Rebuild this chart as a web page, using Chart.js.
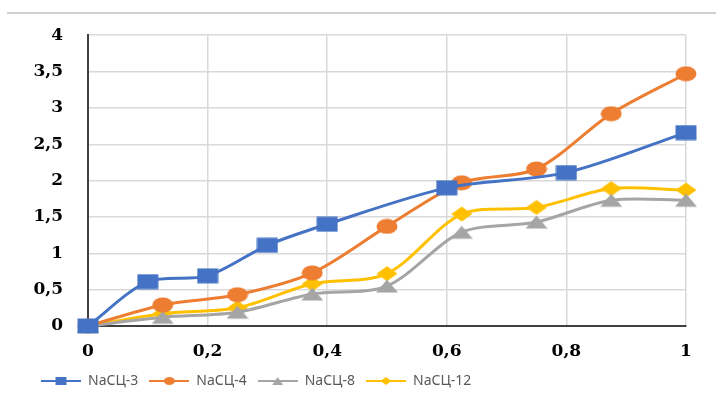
<!DOCTYPE html>
<html>
<head>
<meta charset="utf-8">
<script src="https://cdn.jsdelivr.net/npm/chart.js@4.4.1/dist/chart.umd.min.js"></script>
<style>
  html, body { margin: 0; padding: 0; background: #fff; }
  #wrap { position: relative; width: 716px; height: 405px; }
  #topline { position: absolute; left: 7px; right: 0; top: 12px; height: 0; border-top: 2px solid #d0d0d0; }
</style>
</head>
<body>
<div id="wrap">
  <div id="topline"></div>
  <canvas id="chart" width="716" height="405"></canvas>
</div>
<script>
// данные с графика
const seriesNames = ['NaСЦ-3', 'NaСЦ-4', 'NaСЦ-8', 'NaСЦ-12'];
const xBlue = [0, 0.1, 0.2, 0.3, 0.4, 0.6, 0.8, 1];
const yBlue = [0, 0.61, 0.69, 1.11, 1.40, 1.90, 2.11, 2.66];
const xOther = [0, 0.125, 0.25, 0.375, 0.5, 0.625, 0.75, 0.875, 1];
const yOrange = [0, 0.29, 0.43, 0.73, 1.37, 1.97, 2.16, 2.92, 3.47];
const yGray = [0, 0.12, 0.19, 0.44, 0.55, 1.29, 1.43, 1.73, 1.73];
const yYellow = [0, 0.17, 0.25, 0.58, 0.72, 1.54, 1.63, 1.89, 1.87];
const xTicks = [0, 0.2, 0.4, 0.6, 0.8, 1];
const yTicks = [0, 0.5, 1, 1.5, 2, 2.5, 3, 3.5, 4];

const colors = ['#4472C4', '#ED7D31', '#A5A5A5', '#FFC000'];
const kinds = ['rect', 'circle', 'triangle', 'diamond'];

// рисуем маркер (растянутый по горизонтали, как в оригинале)
function drawMarker(g, kind, cx, cy, w, h) {
  g.beginPath();
  if (kind === 'rect') {
    g.rect(cx - w / 2, cy - h / 2, w, h);
  } else if (kind === 'circle') {
    g.ellipse(cx, cy, w / 2, h / 2, 0, 0, Math.PI * 2);
  } else if (kind === 'triangle') {
    g.moveTo(cx, cy - h / 2);
    g.lineTo(cx + w / 2, cy + h / 2);
    g.lineTo(cx - w / 2, cy + h / 2);
    g.closePath();
  } else {
    g.moveTo(cx, cy - h / 2);
    g.lineTo(cx + w / 2, cy);
    g.lineTo(cx, cy + h / 2);
    g.lineTo(cx - w / 2, cy);
    g.closePath();
  }
  g.fill();
}

function makeMarker(kind, color) {
  const c = document.createElement('canvas');
  c.width = 22; c.height = 16;
  const g = c.getContext('2d');
  g.fillStyle = color;
  drawMarker(g, kind, 11, 8, kind === 'triangle' ? 22 : 21, kind === 'triangle' ? 13 : 15);
  return c;
}

function makeLegendIcon(kind, color) {
  const c = document.createElement('canvas');
  c.width = 40; c.height = 12;
  const g = c.getContext('2d');
  g.strokeStyle = color;
  g.lineWidth = 2;
  g.beginPath(); g.moveTo(0, 6); g.lineTo(40, 6); g.stroke();
  g.fillStyle = color;
  drawMarker(g, kind, 20, 6, 11, 8);
  return c;
}

const markers = kinds.map((k, i) => makeMarker(k, colors[i]));
const legendIcons = kinds.map((k, i) => makeLegendIcon(k, colors[i]));

function toPoints(xs, ys) {
  return xs.map((x, i) => ({ x: x, y: ys[i] }));
}
const allY = [yBlue, yOrange, yGray, yYellow];
const allX = [xBlue, xOther, xOther, xOther];

const datasets = seriesNames.map((name, i) => ({
  label: name,
  data: toPoints(allX[i], allY[i]),
  borderColor: colors[i],
  backgroundColor: colors[i],
  borderWidth: 3,
  tension: 0.3,
  pointStyle: markers[i],
  pointRadius: 8,
  pointHoverRadius: 8,
  clip: false
}));

const comma = v => String(v).replace('.', ',');

const ctx = document.getElementById('chart').getContext('2d');
new Chart(ctx, {
  type: 'line',
  data: { datasets: datasets },
  options: {
    responsive: false,
    animation: false,
    layout: { padding: { top: 35, right: 30, bottom: 7, left: 30 } },
    scales: {
      x: {
        type: 'linear',
        min: 0, max: 1,
        afterBuildTicks: axis => { axis.ticks = xTicks.map(v => ({ value: v })); },
        afterFit: axis => { axis.height = 37; },
        grid: { color: '#d9d9d9', lineWidth: 1.5, drawTicks: false },
        border: { color: '#404040', width: 2 },
        ticks: {
          padding: 15,
          color: '#000',
          font: { family: 'DejaVu Serif', weight: 'bold', size: 17 },
          callback: v => comma(v)
        }
      },
      y: {
        min: 0, max: 4,
        afterBuildTicks: axis => { axis.ticks = yTicks.map(v => ({ value: v })); },
        afterFit: axis => { axis.width = 58; },
        grid: { color: '#d9d9d9', lineWidth: 1.5, drawTicks: false },
        border: { color: '#404040', width: 2 },
        ticks: {
          padding: 25,
          color: '#000',
          font: { family: 'DejaVu Serif', weight: 'bold', size: 17 },
          callback: v => comma(v)
        }
      }
    },
    plugins: {
      tooltip: { enabled: false },
      legend: {
        position: 'bottom',
        align: 'start',
        labels: {
          usePointStyle: true,
          pointStyleWidth: 40,
          padding: 11,
          color: '#595959',
          font: { family: 'Noto Sans', size: 14 },
          generateLabels: chart => {
            const items = Chart.defaults.plugins.legend.labels.generateLabels(chart);
            items.forEach((it, i) => { it.pointStyle = legendIcons[i]; });
            return items;
          }
        }
      }
    }
  }
});
</script>
</body>
</html>
